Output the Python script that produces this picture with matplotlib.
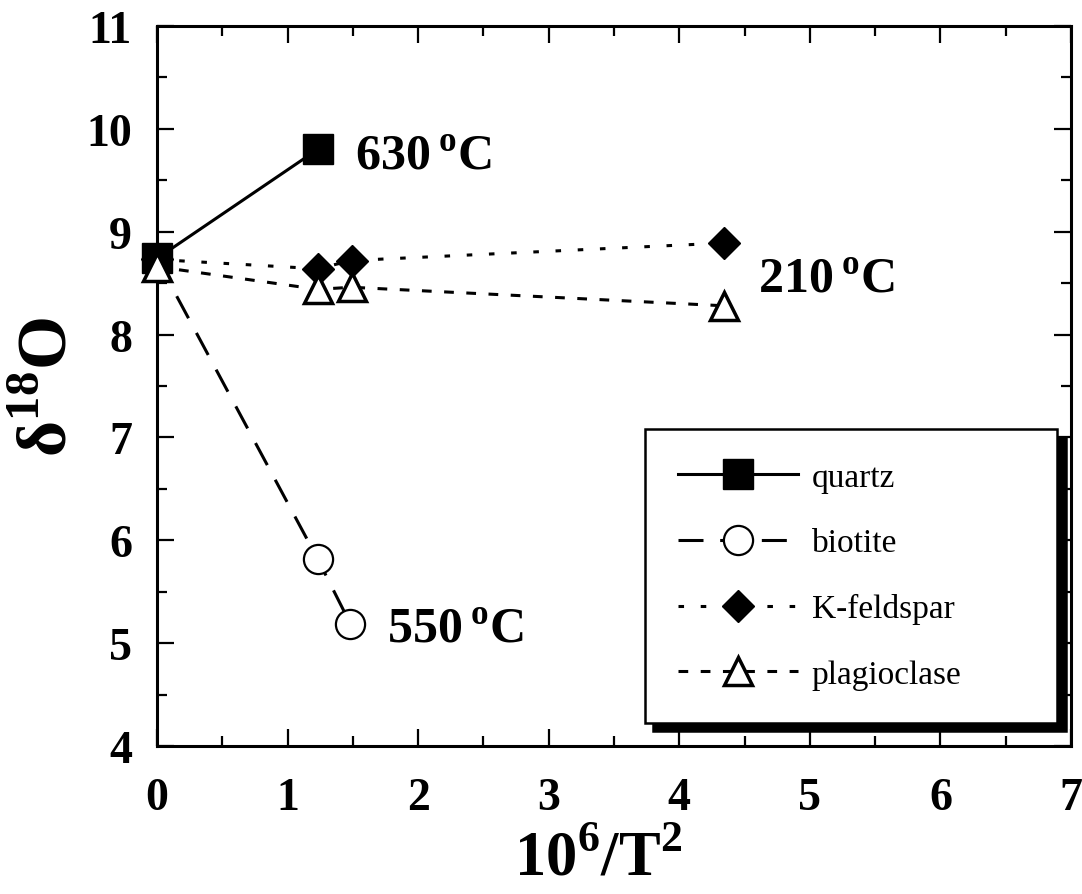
import numpy as np
import matplotlib
matplotlib.use("Agg")
import matplotlib.pyplot as plt
from matplotlib.ticker import MultipleLocator

# values (x = 10^6/T^2, y = delta 18O)
quartz_x = [0.0, 1.23]
quartz_y = [8.74, 9.80]
biotite_x = [0.0, 1.23, 1.48]
biotite_y = [8.73, 5.82, 5.19]
kfs_x = [0.0, 1.23, 1.49, 4.34]
kfs_y = [8.73, 8.64, 8.72, 8.89]
plag_x = [0.0, 1.23, 1.49, 4.34]
plag_y = [8.66, 8.44, 8.46, 8.28]

temp_labels = ["630", "210", "550"]
temp_pos = [(1.52, 9.61), (4.60, 8.415), (1.76, 5.01)]

plt.rcParams['font.family'] = ['Liberation Serif', 'DejaVu Serif']
plt.rcParams['mathtext.fontset'] = 'custom'
plt.rcParams['mathtext.rm'] = 'Liberation Serif:bold'
plt.rcParams['mathtext.bf'] = 'Liberation Serif:bold'
plt.rcParams['lines.scale_dashes'] = False

fig = plt.figure(figsize=(10.82, 8.95), dpi=100)
ax = fig.add_axes([0.1451, 0.1654, 0.8447, 0.8044])

lw = 2.2
ax.plot(biotite_x, biotite_y, color='k', lw=lw, dashes=(18, 12), marker='o',
        ms=21, mfc='white', mec='k', mew=1.6, label='biotite', zorder=3,
        clip_on=False)
ax.plot(kfs_x, kfs_y, color='k', lw=lw, dashes=(4, 12), marker='D',
        ms=16, mfc='k', mec='k', mew=1, label='K-feldspar', zorder=4,
        clip_on=False)
ax.plot(quartz_x, quartz_y, color='k', lw=lw, ls='-', marker='s',
        ms=22, mfc='k', mec='k', label='quartz', zorder=5, clip_on=False)
ax.plot(plag_x, plag_y, color='k', lw=lw, dashes=(7, 9), marker='^',
        ms=20, mfc='white', mec='k', mew=2.5, label='plagioclase', zorder=6,
        clip_on=False)

for t, (x, y) in zip(temp_labels, temp_pos):
    ax.text(x, y, t + r"$\,^{\mathrm{o}}$C", fontsize=36, fontweight='bold',
            ha='left', va='baseline')

ax.set_xlim(0, 7)
ax.set_ylim(4, 11)
ax.xaxis.set_major_locator(MultipleLocator(1))
ax.xaxis.set_minor_locator(MultipleLocator(0.5))
ax.yaxis.set_major_locator(MultipleLocator(1))
ax.yaxis.set_minor_locator(MultipleLocator(0.5))
ax.tick_params(which='both', direction='in', top=True, right=True, width=1.6)
ax.tick_params(which='major', length=12)
ax.tick_params(which='minor', length=7)
ax.tick_params(axis='x', which='major', pad=22)
ax.tick_params(axis='y', which='major', pad=18)
for lab in ax.get_xticklabels() + ax.get_yticklabels():
    lab.set_fontsize(33)
    lab.set_fontweight('bold')
for s in ax.spines.values():
    s.set_linewidth(2.2)

ax.set_xlabel(r"10$^{6}$/T$^{2}$", fontsize=45, fontweight='bold')
ax.set_ylabel(r"δ$^{18}$O", fontsize=50, fontweight='bold')
ax.xaxis.label.set_verticalalignment('baseline')
ax.yaxis.label.set_verticalalignment('baseline')
ax.xaxis.set_label_coords(0.4825, -0.178, transform=ax.transAxes)
ax.yaxis.set_label_coords(-0.0985, 0.5, transform=ax.transAxes)

handles, labels = ax.get_legend_handles_labels()
order = [2, 0, 1, 3]
leg = ax.legend([handles[i] for i in order], [labels[i] for i in order],
                loc='upper left', bbox_to_anchor=(0.534, 0.0375, 0.451, 0.403),
                bbox_transform=ax.transAxes, borderaxespad=0, mode='expand',
                prop={'family': 'Liberation Serif', 'size': 24},
                handlelength=3.6, handletextpad=0.4, labelspacing=1.05,
                borderpad=1.0, fancybox=False, framealpha=1,
                edgecolor='k', numpoints=1,
                shadow={'ox': 6, 'oy': -6, 'color': 'k', 'alpha': 1})
leg.get_frame().set_linewidth(1.8)

fig.savefig("out.png", dpi=100)
